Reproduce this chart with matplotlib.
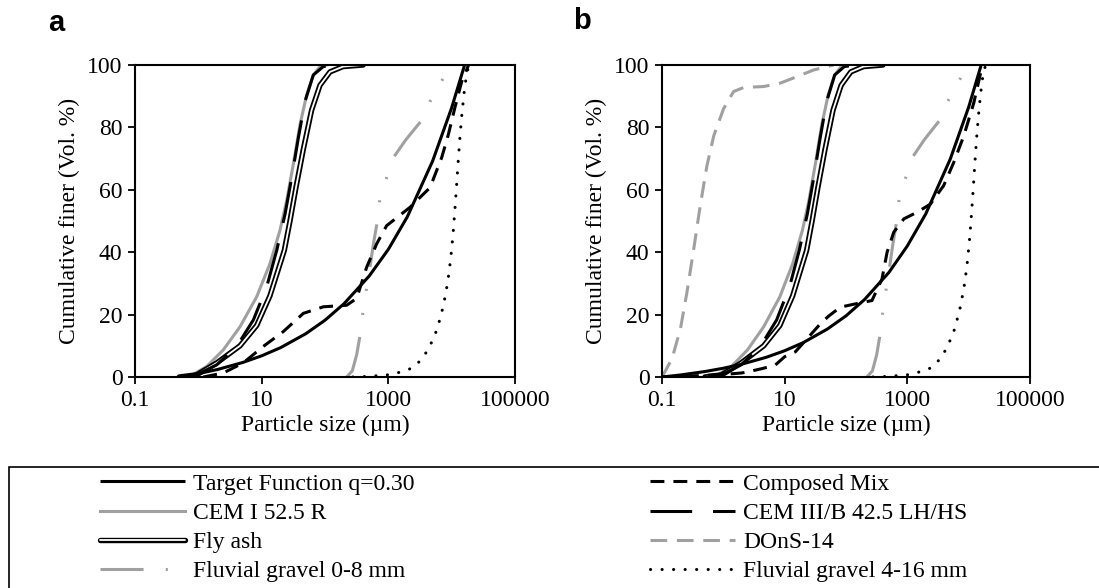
import matplotlib
matplotlib.use('Agg')
import matplotlib.pyplot as plt
from matplotlib.lines import Line2D
from matplotlib.patches import Rectangle
import matplotlib.patheffects as pe

plt.rcParams['font.family'] = ['Liberation Serif', 'DejaVu Serif']
plt.rcParams['lines.scale_dashes'] = False

# ---------------- data (particle size in µm, cumulative finer in vol.%) ----------------
target_a_size = [0.5, 1, 2, 5, 10, 20, 50, 100, 200, 500, 1000, 2000, 5000, 10000, 16000]
target_a_val = [0, 1.08, 2.40, 4.64, 6.79, 9.43, 13.9, 18.2, 23.5, 32.4, 40.9, 51.4, 69.2, 86.3, 100]

target_b_size = [0.1, 0.2, 0.5, 1, 2, 5, 10, 20, 50, 100, 200, 500, 1000, 2000, 5000, 10000, 16000]
target_b_val = [0, 0.65, 1.75, 2.81, 4.11, 6.31, 8.42, 11.0, 15.4, 19.6, 24.8, 33.5, 42.0, 52.3, 69.8, 86.5, 100]

cem1_size = [0.65, 0.74, 1.36, 2.48, 4.55, 8.34, 13.5, 19.4, 24.8, 31.6, 40.3, 51.3, 65.4, 83.3, 106]
cem1_val = [0, 0.2, 3.4, 8.7, 16.1, 25.7, 36.3, 46.9, 56.5, 68.2, 80.9, 90.4, 96.8, 99.5, 100]

cem3_size = [0.8, 0.94, 1.95, 4.03, 7.4, 12, 17.3, 23.4, 29.8, 37.9, 48.3, 65.4, 94, 151]
cem3_val = [0, 0.7, 3.9, 9.8, 18.3, 28.9, 40.6, 52.2, 63.9, 76.6, 88.3, 96.8, 99.5, 100]

fly_size = [0.5, 0.94, 1.95, 4.55, 8.34, 13.5, 18, 22.8, 28, 35, 45.5, 61.4, 83.3, 120, 193, 400]
fly_val = [0, 0.7, 4.5, 10, 16.5, 26, 34, 40.6, 50, 61, 73, 85.5, 93.5, 97.8, 99.5, 100]

mix_a_size = [1.2, 2.48, 5.1, 10.6, 21.8, 45.5, 94, 220, 316, 455, 655, 940, 2200, 4550, 6950, 8860, 11200, 14400, 18500]
mix_a_val = [0, 1.3, 4.5, 9.8, 14.5, 20.4, 22.5, 23, 25.2, 35.2, 42.7, 48.5, 54.4, 60.7, 70.3, 77.7, 86.2, 94.7, 100]

mix_b_size = [0.1, 0.5, 1, 2, 3, 4.3, 7, 10, 15, 25, 38, 52, 81, 195, 265, 386, 468, 600, 880, 1440, 2370, 3900, 5690, 8300, 12100, 16500, 17500]
mix_b_val = [0, 0.5, 0.8, 1.3, 2.0, 2.7, 3.8, 6.5, 8.1, 13, 17, 19.5, 22.4, 24, 24.5, 31.4, 40, 46.4, 50.7, 52.8, 55.4, 61.3, 68.7, 77.2, 87.8, 99.4, 100]

dons_size = [0.1, 0.146, 0.2, 0.256, 0.33, 0.42, 0.54, 0.70, 1.01, 1.47, 2.15, 4.55, 8.5, 16, 29.6, 63]
dons_val = [0, 5.9, 15.5, 27.3, 41.2, 54.9, 67.7, 77.4, 86, 91.5, 92.8, 93.1, 94.2, 96.3, 98.4, 100]

fl08_size = [220, 270, 316, 366, 403, 513, 580, 670, 738, 1200, 1900, 3280, 4550, 7380, 9330]
fl08_val = [0, 2.0, 7.1, 14.5, 22, 35.2, 42.5, 49.9, 57.5, 70.3, 76.1, 82, 88.3, 95.8, 100]

fl416_size = [275, 500, 1000, 1500, 2340, 3200, 4130, 5000, 5940, 7390, 8670, 9660, 10500, 11200, 11900, 12600, 13400, 14400, 15700, 17300, 19000]
fl416_val = [0, 0.2, 0.7, 1.5, 2.8, 5.2, 8.4, 11.8, 15.5, 22.8, 30.4, 38, 45.6, 53.1, 60.7, 68.3, 75.9, 83.6, 91, 97.5, 100]

x_ticks = [0.1, 10, 1000, 100000]
x_ticklabels = ['0.1', '10', '1000', '100000']
y_ticks = [0, 20, 40, 60, 80, 100]

labels = ['Target Function q=0.30', 'CEM I 52.5 R', 'Fly ash', 'Fluvial gravel 0-8 mm',
          'Composed Mix', 'CEM III/B 42.5 LH/HS', 'DOnS-14', 'Fluvial gravel 4-16 mm']

# ---------------- styles ----------------
GREY = '#a0a0a0'
LW = 2.2
st_target = dict(color='black', lw=LW, solid_capstyle='butt')
st_cem1 = dict(color=GREY, lw=LW)
st_cem3 = dict(color='black', lw=LW, dashes=(30, 15))
st_mix = dict(color='black', lw=LW, dashes=(10, 6.5))
st_dons = dict(color=GREY, lw=LW, dashes=(12, 7))
st_fl08 = dict(color=GREY, lw=LW, dashes=(31, 16, 1.5, 16, 1.5, 16))
st_fl416 = dict(color='black', lw=LW, dashes=(0.1, 8.2), dash_capstyle='round')
st_fly = dict(color='white', lw=1.3, solid_capstyle='round',
              path_effects=[pe.Stroke(linewidth=3.9, foreground='black', capstyle='round'),
                            pe.Normal()])

W, H = 1099, 588
fig = plt.figure(figsize=(W / 100, H / 100), dpi=100)


def rect(l, r, t, b):
    return [l / W, 1 - b / H, (r - l) / W, (b - t) / H]


axa = fig.add_axes(rect(135, 515, 65, 377))
axb = fig.add_axes(rect(662, 1030, 65, 377))


def draw(ax, tsize, tval, msize, mval, with_dons):
    ax.plot(cem1_size, cem1_val, **st_cem1)
    if with_dons:
        ax.plot(dons_size, dons_val, **st_dons)
    ax.plot(fl08_size, fl08_val, **st_fl08)
    ax.plot(fl416_size, fl416_val, **st_fl416)
    ax.plot(fly_size, fly_val, **st_fly)
    ax.plot(cem3_size, cem3_val, **st_cem3)
    ax.plot(msize, mval, **st_mix)
    ax.plot(tsize, tval, **st_target)
    ax.set_xscale('log')
    ax.set_xlim(0.1, 100000)
    ax.set_ylim(0, 100)
    ax.set_xticks(x_ticks)
    ax.set_xticklabels(x_ticklabels)
    ax.minorticks_off()
    ax.set_yticks(y_ticks)
    ax.tick_params(direction='out', length=5, width=1.3, labelsize=17, pad=4)
    ax.tick_params(axis='x', top=False)
    ax.tick_params(axis='y', right=False)
    for s in ax.spines.values():
        s.set_linewidth(1.5)
    ax.set_xlabel('Particle size (µm)', fontsize=17, labelpad=3)
    ax.set_ylabel('Cumulative finer (Vol. %)', fontsize=17, labelpad=5)


draw(axa, target_a_size, target_a_val, mix_a_size, mix_a_val, False)
draw(axb, target_b_size, target_b_val, mix_b_size, mix_b_val, True)

fig.text(48 / W, 1 - 23 / H, 'a', family=['Liberation Sans', 'DejaVu Sans'], weight='bold',
         fontsize=21, ha='left', va='center')
fig.text(573 / W, 1 - 21 / H, 'b', family=['Liberation Sans', 'DejaVu Sans'], weight='bold',
         fontsize=21, ha='left', va='center')

# ---------------- legend ----------------
h_target = Line2D([], [], **st_target)
h_cem1 = Line2D([], [], **st_cem1)
h_fly = Line2D([], [], **st_fly)
h_fl08 = Line2D([], [], **st_fl08)
h_mix = Line2D([], [], **st_mix)
h_cem3 = Line2D([], [], **st_cem3)
h_dons = Line2D([], [], **st_dons)
h_fl416 = Line2D([], [], **st_fl416)

common = dict(frameon=False, fontsize=17, handlelength=3.6, handletextpad=0.35,
              labelspacing=0.33, borderpad=0, borderaxespad=0, loc='upper left')
leg1 = fig.legend([h_target, h_cem1, h_fly, h_fl08], labels[:4],
                  bbox_to_anchor=(100 / W, 1 - 473 / H), **common)
leg2 = fig.legend([h_mix, h_cem3, h_dons, h_fl416], labels[4:],
                  bbox_to_anchor=(650 / W, 1 - 473 / H), **common)

frame = Rectangle((9 / W, -0.05), 1.2, 1 - 467 / H + 0.05, transform=fig.transFigure,
                  fill=False, edgecolor='black', lw=1.2, clip_on=False)
fig.patches.append(frame)

fig.savefig('out.png', dpi=100)
